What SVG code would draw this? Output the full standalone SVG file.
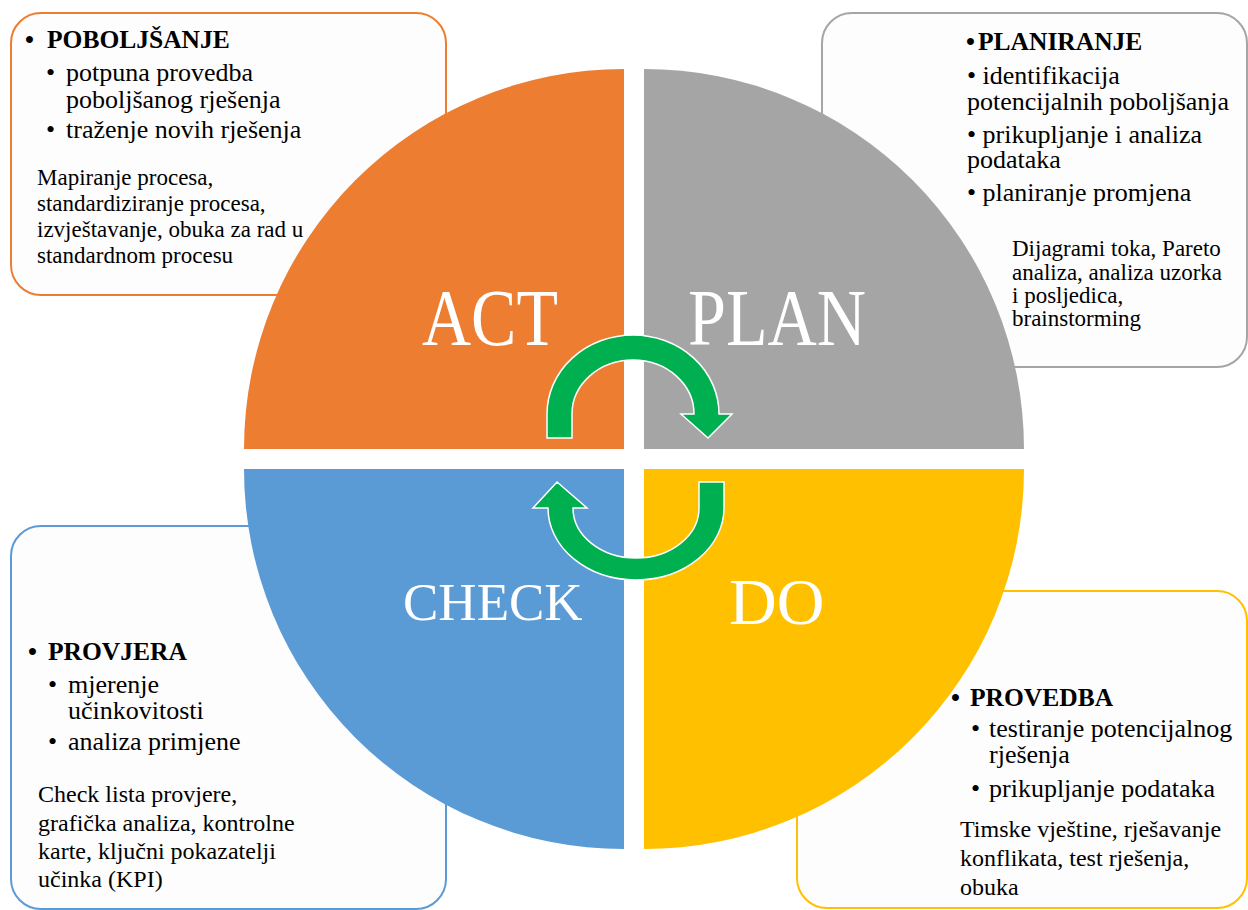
<svg xmlns="http://www.w3.org/2000/svg" width="1248" height="910" viewBox="0 0 1248 910">
<style>
.box{fill:#fdfdfd;stroke-width:2}
.t{font-family:"Liberation Serif","Times New Roman",serif;fill:#000}
.h{font-size:25.5px;font-weight:bold}
.b{font-size:26px}
.s{font-size:23px}
.s2{font-size:24px}
.big{font-family:"Liberation Serif","Times New Roman",serif;fill:#fff}
.arrow{fill:#00b050;stroke:#fff;stroke-width:1.5;stroke-linejoin:miter}
</style>
<rect width="1248" height="910" fill="#fff"/>

<g id="box-act">
<rect class="box" x="11" y="13" width="435" height="282" rx="30" stroke="#ed7d31"/>
<text class="t h" x="25" y="48">•</text>
<text class="t h" x="47" y="48">POBOLJŠANJE</text>
<text class="t b" x="46" y="81">•</text>
<text class="t b" x="66" y="81">potpuna provedba</text>
<text class="t b" x="66" y="108">poboljšanog rješenja</text>
<text class="t b" x="46" y="138">•</text>
<text class="t b" x="66" y="138">traženje novih rješenja</text>
<text class="t s" x="37" y="185">Mapiranje procesa,</text>
<text class="t s" x="37" y="211">standardiziranje procesa,</text>
<text class="t s" x="37" y="237">izvještavanje, obuka za rad u</text>
<text class="t s" x="37" y="263">standardnom procesu</text>
</g>

<g id="box-plan">
<rect class="box" x="822" y="13" width="425" height="354" rx="30" stroke="#a5a5a5"/>
<text class="t h" x="966" y="50">•</text>
<text class="t h" x="978" y="50">PLANIRANJE</text>
<text class="t b" x="967" y="84">• identifikacija</text>
<text class="t b" x="967" y="110">potencijalnih poboljšanja</text>
<text class="t b" x="967" y="143">• prikupljanje i analiza</text>
<text class="t b" x="967" y="168">podataka</text>
<text class="t b" x="967" y="201">• planiranje promjena</text>
<text class="t s" x="1012" y="256">Dijagrami toka, Pareto</text>
<text class="t s" x="1012" y="280">analiza, analiza uzorka</text>
<text class="t s" x="1012" y="303">i posljedica,</text>
<text class="t s" x="1012" y="326">brainstorming</text>
</g>

<g id="box-check">
<rect class="box" x="11" y="526" width="435" height="383" rx="30" stroke="#5b9bd5"/>
<text class="t h" x="28" y="660">•</text>
<text class="t h" x="48" y="660">PROVJERA</text>
<text class="t b" x="48" y="693">•</text>
<text class="t b" x="68" y="693">mjerenje</text>
<text class="t b" x="68" y="719">učinkovitosti</text>
<text class="t b" x="48" y="750">•</text>
<text class="t b" x="68" y="750">analiza primjene</text>
<text class="t s2" x="38" y="802">Check lista provjere,</text>
<text class="t s2" x="38" y="831">grafička analiza, kontrolne</text>
<text class="t s2" x="38" y="859">karte, ključni pokazatelji</text>
<text class="t s2" x="38" y="887">učinka (KPI)</text>
</g>

<g id="box-do">
<rect class="box" x="797" y="591" width="450" height="317" rx="30" stroke="#ffc000"/>
<text class="t h" x="951" y="706">•</text>
<text class="t h" x="970" y="706">PROVEDBA</text>
<text class="t b" x="971" y="737">•</text>
<text class="t b" x="989" y="737">testiranje potencijalnog</text>
<text class="t b" x="989" y="763">rješenja</text>
<text class="t b" x="971" y="797">•</text>
<text class="t b" x="989" y="797">prikupljanje podataka</text>
<text class="t s2" x="960" y="837">Timske vještine, rješavanje</text>
<text class="t s2" x="960" y="866">konflikata, test rješenja,</text>
<text class="t s2" x="960" y="895">obuka</text>
</g>

<g id="q-act">
<path d="M624 449 L244 449 A380 380 0 0 1 624 69 Z" fill="#ed7d31"/>
<text class="big" x="422" y="345" font-size="80" textLength="136" lengthAdjust="spacingAndGlyphs">ACT</text>
</g>
<g id="q-plan">
<path d="M644 449 L644 69 A380 380 0 0 1 1024 449 Z" fill="#a5a5a5"/>
<text class="big" x="688" y="345" font-size="80" textLength="178" lengthAdjust="spacingAndGlyphs">PLAN</text>
</g>
<g id="q-check">
<path d="M624 469 L624 849 A380 380 0 0 1 244 469 Z" fill="#5b9bd5"/>
<text class="big" x="403" y="620" font-size="53">CHECK</text>
</g>
<g id="q-do">
<path d="M644 469 L1024 469 A380 380 0 0 1 644 849 Z" fill="#ffc000"/>
<text class="big" x="729" y="624" font-size="66">DO</text>
</g>

<g id="connectors">
<path class="arrow" d="M547 438 L547 414 A86 79 0 0 1 719 414 L732 414 L708 438 L681 414 L694 414 A61 54 0 0 0 572 414 L572 438 Z"/>
<path class="arrow" d="M724 482 L724 508 A88 72 0 0 1 548 508 L533 508 L557 482 L587 508 L573 508 A63 50 0 0 0 699 508 L699 482 Z"/>
</g>
</svg>
